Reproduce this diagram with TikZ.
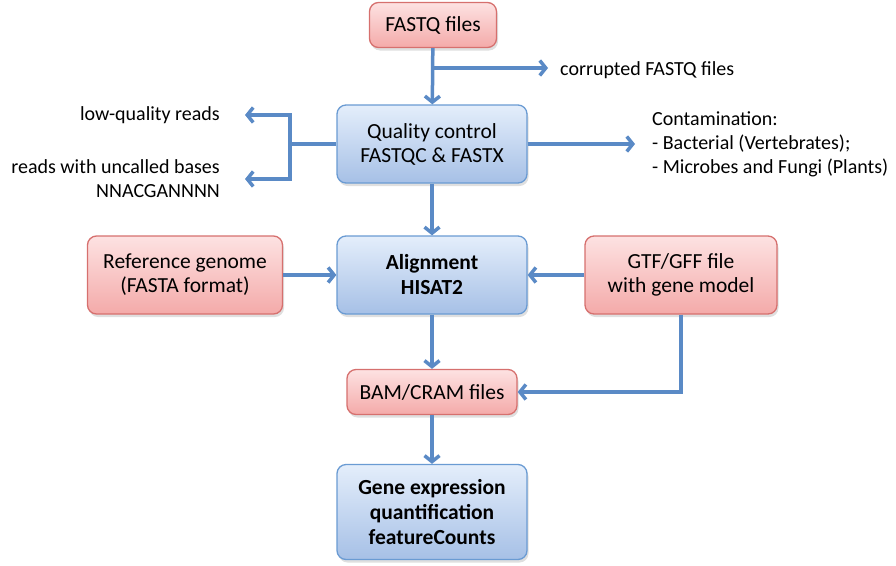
\documentclass[tikz,border=0pt]{standalone}
\usepackage{fontspec}
\setmainfont{Carlito}
\usetikzlibrary{arrows.meta, shadows}
\definecolor{pinktop}{RGB}{253,226,226}
\definecolor{pinkbot}{RGB}{244,170,169}
\definecolor{pinkline}{RGB}{214,112,110}
\definecolor{bluetop}{RGB}{228,238,251}
\definecolor{bluebot}{RGB}{166,192,230}
\definecolor{blueline}{RGB}{106,155,211}
\definecolor{arrowblue}{RGB}{90,138,198}

\begin{document}
\begin{tikzpicture}[x=1pt, y=-1pt,
  box/.style={line width=1.3pt, rounded corners=9pt, align=center,
    font=\fontsize{21.5}{24}\selectfont,
    drop shadow={shadow xshift=1.5pt, shadow yshift=-3pt, opacity=0.25}},
  pinkbox/.style={box, draw=pinkline, top color=pinktop, bottom color=pinkbot},
  bluebox/.style={box, draw=blueline, top color=bluetop, bottom color=bluebot},
  note/.style={inner sep=0pt, font=\fontsize{20}{24}\selectfont},
  link/.style={draw=arrowblue, line width=3.5pt},
  flow/.style={link, -{Straight Barb[length=6pt, width=15pt]}}]
\useasboundingbox (0,0) rectangle (896,565);

\node[pinkbox, minimum width=127pt, minimum height=45pt] (fastq) at (433,25) {FASTQ files};
\node[bluebox, minimum width=190pt, minimum height=78pt] (qc) at (432,144) {Quality control\\FASTQC \& FASTX};
\node[bluebox, minimum width=190pt, minimum height=78pt, font=\fontsize{21.5}{25}\selectfont\bfseries] (align) at (432,275) {Alignment\\HISAT2};
\node[pinkbox, minimum width=195pt, minimum height=78pt] (ref) at (185,275) {Reference genome\\(FASTA format)};
\node[pinkbox, minimum width=192pt, minimum height=78pt] (gtf) at (681,275) {GTF/GFF file\\with gene model};
\node[pinkbox, minimum width=170pt, minimum height=45pt] (bam) at (432,392) {BAM/CRAM files};
\node[bluebox, minimum width=190pt, minimum height=95pt, font=\fontsize{21.5}{25}\selectfont\bfseries] (gene) at (432,512) {Gene expression\\quantification\\featureCounts};

\node[note, anchor=west] (corrupt) at (560,70) {corrupted FASTQ files};
\node[note, anchor=east] (lowq) at (220,115) {low-quality reads};
\node[note, anchor=east, align=right] (uncalled) at (220,179) {reads with uncalled bases\\NNACGANNNN};
\node[note, anchor=west, align=left] (contam) at (652,144) {Contamination:\\- Bacterial (Vertebrates);\\- Microbes and Fungi (Plants)};

\coordinate (cbranch) at (433,68);
\coordinate (lbranch) at (290,144);

\draw[flow] (fastq) -- (qc);
\draw[flow, shorten >=12pt] (cbranch) -- (cbranch -| corrupt.west);
\draw[link] (qc.west) -- (lbranch);
\draw[flow, shorten >=25pt] (lbranch) |- (lowq.east);
\draw[flow, shorten >=25pt] (lbranch) |- (uncalled.east);
\draw[flow, shorten >=17pt] (qc.east) -- (contam.west);
\draw[flow] (qc) -- (align);
\draw[flow] (ref) -- (align);
\draw[flow] (gtf) -- (align);
\draw[flow] (align) -- (bam);
\draw[flow] (gtf.south) |- (bam.east);
\draw[flow] (bam) -- (gene);
\end{tikzpicture}
\end{document}
